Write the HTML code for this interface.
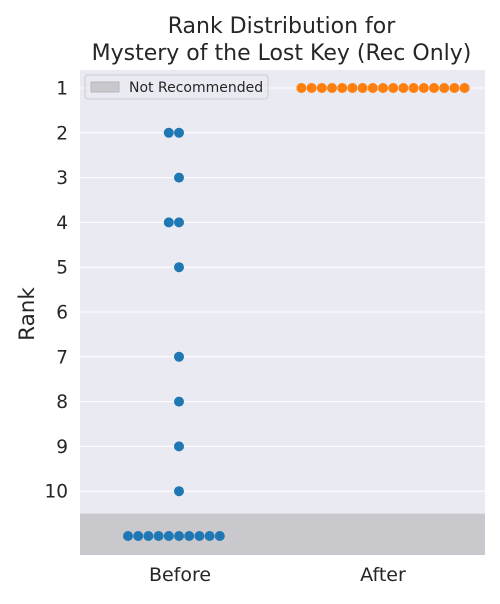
<!DOCTYPE html>
<html><head><meta charset="utf-8"><style>
body{margin:0;background:#fff;font-family:"DejaVu Sans","Liberation Sans",sans-serif}
</style></head><body>
<svg id="chart" width="500" height="600" xmlns="http://www.w3.org/2000/svg" font-family="DejaVu Sans, Liberation Sans, sans-serif"></svg>
<script>
const categories = ["Before", "After"];
const beforeRanks = [2,2,3,4,4,5,7,8,9,10,11,11,11,11,11,11,11,11,11,11];
const afterRanks = [1,1,1,1,1,1,1,1,1,1,1,1,1,1,1,1,1];
const yTicks = [1,2,3,4,5,6,7,8,9,10];
const notRecRank = 11;
const colors = ["#1f77b4", "#ff7f0e"];

const NS = "http://www.w3.org/2000/svg";
const svg = document.getElementById("chart");
const L = 80, R = 485, T = 70, B = 555;
function y(r){ return 88 + (r - 1) * 44.8; }
function x(i){ return 180 + i * 203; }
function mk(tag, attrs, parent){
  const e = document.createElementNS(NS, tag);
  for (const k in attrs) e.setAttribute(k, attrs[k]);
  (parent || svg).appendChild(e);
  return e;
}
const bg = mk("rect", {x:L, y:T, width:R-L, height:B-T, fill:"#eaeaf2"});


yTicks.forEach(t => {
  const g = mk("line", {x1:L, x2:R, y1:y(t), y2:y(t), stroke:"#fff", "stroke-width":1});
  
  
  const tx = mk("text", {x:68, y:y(t)+6.5, "text-anchor":"end", "font-size":18.5, fill:"#262626"});
  tx.textContent = t;
  
  
});
const shade = mk("rect", {x:L, y:y(notRecRank-0.5), width:R-L, height:B-y(notRecRank-0.5), fill:"#c9c9cd"});


[beforeRanks, afterRanks].forEach((ranks, ci) => {
  const counts = {};
  ranks.forEach(r => {
    const k = counts[r] || 0; counts[r] = k + 1;
    const off = k === 0 ? 0 : (k % 2 === 1 ? -Math.ceil(k/2) : Math.ceil(k/2));
    const c = mk("circle", {cx:x(ci) + off * 10.2 - (ci===0?1:0), cy:y(r), r:5, fill:colors[ci]});
    
    
  });
  const lab = mk("text", {x:x(ci), y:581, "text-anchor":"middle", "font-size":19, fill:"#262626"});
  lab.textContent = categories[ci];
  
  
});
</script>
<svg width="500" height="600" style="position:absolute;left:0;top:0" xmlns="http://www.w3.org/2000/svg" font-family="DejaVu Sans, Liberation Sans, sans-serif">
  <text x="281.5" y="33" text-anchor="middle" font-size="22" fill="#262626">Rank Distribution for</text>
  <text x="281.5" y="60" text-anchor="middle" font-size="22" fill="#262626">Mystery of the Lost Key (Rec Only)</text>
  <text x="34" y="314" text-anchor="middle" font-size="21.5" fill="#262626" transform="rotate(-90 34 314)">Rank</text>
  <g>
    <rect x="85" y="75" width="183" height="24" rx="3" fill="#eaeaf2" fill-opacity="0.8" stroke="#cccccc"/>
    <rect x="91" y="82" width="28" height="10" fill="#c9c9cd" stroke="#b8b8bc"/>
    <text x="129" y="92" font-size="14" fill="#262626">Not Recommended</text>
  </g>
</svg>
</body></html>
